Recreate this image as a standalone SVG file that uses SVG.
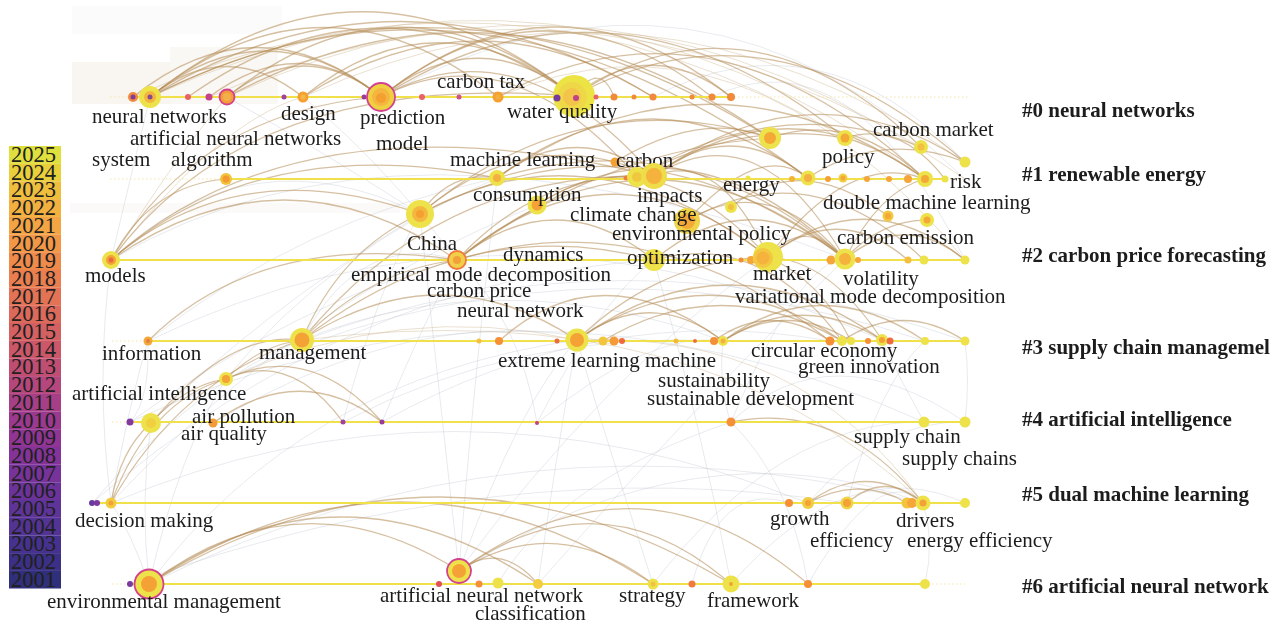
<svg xmlns="http://www.w3.org/2000/svg" width="1283" height="628" viewBox="0 0 1283 628">
<style>
  text { font-family: "Liberation Serif", "Times New Roman", serif; fill: #1c1c1c; }
  .lbl { font-size: 21px; }
  .cl { font-size: 21px; font-weight: bold; }
  .yr { font-size: 22.5px; fill: #202020; }
  .g { fill: none; stroke: #b9c0cb; stroke-width: 0.8; opacity: 0.42; }
  .a { fill: none; stroke: #b48c55; stroke-width: 1.25; opacity: 0.55; }
  .a2 { fill: none; stroke: #cdb590; stroke-width: 1; opacity: 0.42; }
  .dot { stroke: #f3e7a8; stroke-width: 1; stroke-dasharray: 1.5 2.5; }
  .tl { stroke: #f0e04a; stroke-width: 2; }
  .y { fill: #eee24a; }
  .y2 { fill: #f2cc40; }
  .o { fill: #f4a236; }
  .o2 { fill: #f59038; }
  .r { fill: #e8626a; }
  .m { fill: #c4428c; }
  .p { fill: #84399e; }
  .ring { stroke: #d2428c; stroke-width: 1.8; }
</style>

<!-- page and soft background patches -->
<rect x="0" y="0" width="1283" height="628" fill="#ffffff"/>
<g id="backdrop" opacity="0.45">
  <rect x="72" y="62" width="98" height="42" fill="#f1ebe3"/>
  <rect x="170" y="47" width="108" height="57" fill="#f4efe8"/>
  <rect x="72" y="6" width="210" height="28" fill="#f6f6f6"/>
  <rect x="70" y="203" width="330" height="10" fill="#f4ece4" opacity="0.6"/>
</g>

<!-- year colour legend -->
<g id="legend">
  <rect x="9" y="146.0" width="52" height="17.8" fill="#dfe03e"/>
  <rect x="9" y="163.7" width="52" height="17.8" fill="#e9cf3a"/>
  <rect x="9" y="181.4" width="52" height="17.8" fill="#efbe3c"/>
  <rect x="9" y="199.1" width="52" height="17.8" fill="#f2b03f"/>
  <rect x="9" y="216.8" width="52" height="17.8" fill="#f3a443"/>
  <rect x="9" y="234.5" width="52" height="17.8" fill="#f29746"/>
  <rect x="9" y="252.2" width="52" height="17.8" fill="#ef8a4a"/>
  <rect x="9" y="269.9" width="52" height="17.8" fill="#ea7e4f"/>
  <rect x="9" y="287.6" width="52" height="17.8" fill="#e47355"/>
  <rect x="9" y="305.3" width="52" height="17.8" fill="#dd695b"/>
  <rect x="9" y="323.0" width="52" height="17.8" fill="#d56062"/>
  <rect x="9" y="340.7" width="52" height="17.8" fill="#cb5769"/>
  <rect x="9" y="358.4" width="52" height="17.8" fill="#c04e72"/>
  <rect x="9" y="376.1" width="52" height="17.8" fill="#b5477c"/>
  <rect x="9" y="393.8" width="52" height="17.8" fill="#a73f86"/>
  <rect x="9" y="411.5" width="52" height="17.8" fill="#9b398e"/>
  <rect x="9" y="429.2" width="52" height="17.8" fill="#903594"/>
  <rect x="9" y="446.9" width="52" height="17.8" fill="#843398"/>
  <rect x="9" y="464.6" width="52" height="17.8" fill="#77339a"/>
  <rect x="9" y="482.3" width="52" height="17.8" fill="#6b339a"/>
  <rect x="9" y="500.0" width="52" height="17.8" fill="#5f3498"/>
  <rect x="9" y="517.7" width="52" height="17.8" fill="#533394"/>
  <rect x="9" y="535.4" width="52" height="17.8" fill="#46328e"/>
  <rect x="9" y="553.1" width="52" height="17.8" fill="#3b3086"/>
  <rect x="9" y="570.8" width="52" height="17.7" fill="#302f7a"/>
  <text class="yr" x="11" y="162">2025</text>
  <text class="yr" x="11" y="179.7">2024</text>
  <text class="yr" x="11" y="197.4">2023</text>
  <text class="yr" x="11" y="215.1">2022</text>
  <text class="yr" x="11" y="232.8">2021</text>
  <text class="yr" x="11" y="250.5">2020</text>
  <text class="yr" x="11" y="268.2">2019</text>
  <text class="yr" x="11" y="285.9">2018</text>
  <text class="yr" x="11" y="303.6">2017</text>
  <text class="yr" x="11" y="321.3">2016</text>
  <text class="yr" x="11" y="339">2015</text>
  <text class="yr" x="11" y="356.7">2014</text>
  <text class="yr" x="11" y="374.4">2013</text>
  <text class="yr" x="11" y="392.1">2012</text>
  <text class="yr" x="11" y="409.8">2011</text>
  <text class="yr" x="11" y="427.5">2010</text>
  <text class="yr" x="11" y="445.2">2009</text>
  <text class="yr" x="11" y="462.9">2008</text>
  <text class="yr" x="11" y="480.6">2007</text>
  <text class="yr" x="11" y="498.3">2006</text>
  <text class="yr" x="11" y="516">2005</text>
  <text class="yr" x="11" y="533.7">2004</text>
  <text class="yr" x="11" y="551.4">2003</text>
  <text class="yr" x="11" y="569.1">2002</text>
  <text class="yr" x="11" y="586.8">2001</text>
</g>

<!-- co-occurrence links -->
<g id="links">
  <!-- faint grey links -->
  <path class="g" d="M459 571 Q440 400 420 214"/>
  <path class="g" d="M459 571 Q470 420 497 178"/>
  <path class="g" d="M459 571 Q520 400 577 340"/>
  <path class="g" d="M149 584 Q140 500 151 423"/>
  <path class="g" d="M149 584 Q180 450 226 379"/>
  <path class="g" d="M149 584 Q130 530 111 503"/>
  <path class="g" d="M111 503 Q95 380 111 260"/>
  <path class="g" d="M111 503 Q130 400 148 341"/>
  <path class="g" d="M808 584 Q790 480 731 422"/>
  <path class="g" d="M731 584 Q700 420 654 260"/>
  <path class="g" d="M653 584 Q600 420 577 340"/>
  <path class="g" d="M538 584 Q560 430 577 340"/>
  <path class="g" d="M730 422 Q718 380 723 341"/>
  <path class="g" d="M537 423 Q520 320 457 260"/>
  <path class="g" d="M924 422 Q900 380 882 340"/>
  <path class="g" d="M965 422 Q970 380 965 341"/>
  <path class="g" d="M925 584 Q935 540 923 503"/>
  <path class="g" d="M111 260 Q400 90 845 259"/>
  <path class="g" d="M148 341 Q500 170 882 340"/>
  <path class="g" d="M226 379 Q560 220 925 341"/>
  <path class="g" d="M130 422 Q520 240 924 422"/>
  <path class="g" d="M302 341 Q620 220 965 341"/>
  <path class="g" d="M111 503 Q450 360 808 503"/>
  <path class="g" d="M149 584 Q520 400 923 503"/>
  <path class="g" d="M459 571 Q700 420 923 503"/>
  <path class="g" d="M130 584 Q500 450 847 503"/>
  <path class="g" d="M382 422 Q600 300 830 341"/>
  <path class="g" d="M343 422 Q520 330 723 341"/>
  <path class="g" d="M213 423 Q420 300 603 341"/>
  <path class="g" d="M148 341 Q300 220 497 178"/>
  <path class="g" d="M111 260 Q250 130 420 214"/>
  <path class="g" d="M302 340 Q360 230 457 260"/>
  <path class="g" d="M92 503 Q200 380 302 340"/>
  <path class="g" d="M537 423 Q650 330 723 341"/>
  <path class="g" d="M731 422 Q830 330 965 422"/>
  <path class="g" d="M808 503 Q880 420 965 422"/>
  <path class="g" d="M847 503 Q880 380 925 341"/>
  <path class="g" d="M692 584 Q720 480 789 503"/>
  <path class="g" d="M498 583 Q560 480 731 422"/>
  <path class="g" d="M381 97 Q700 -80 965 179"/>
  <path class="g" d="M653 97 Q820 10 965 162"/>
  <path class="g" d="M712 97 Q850 30 965 260"/>
  <path class="g" d="M227 97 Q320 150 420 214"/>
  <path class="g" d="M150 97 Q130 180 111 260"/>
  <path class="g" d="M303 97 Q380 160 457 260"/>
  <path class="g" d="M130 422 Q300 300 457 260"/>
  <path class="g" d="M151 423 Q250 320 420 214"/>
  <path class="g" d="M226 379 Q330 250 497 178"/>
  <path class="g" d="M149 584 Q300 380 577 340"/>
  <path class="g" d="M459 571 Q600 380 768 257"/>
  <path class="g" d="M538 584 Q700 400 845 259"/>
  <path class="g" d="M653 584 Q780 420 924 422"/>
  <path class="g" d="M731 584 Q850 450 965 503"/>
  <path class="g" d="M111 503 Q300 300 537 205"/>
  <path class="g" d="M92 503 Q350 280 654 260"/>
  <path class="g" d="M302 340 Q500 260 723 341"/>
  <path class="g" d="M148 341 Q150 400 130 422"/>
  <path class="g" d="M808 584 Q880 460 923 503"/>
  <path class="g" d="M731 422 Q800 260 845 259"/>
  <path class="g" d="M537 423 Q600 300 654 260"/>
  <path class="g" d="M382 422 Q420 330 457 260"/>
  <path class="g" d="M343 422 Q380 280 420 214"/>

  <!-- main links -->
  <path class="a" d="M150 97 Q265 5 381 97"/>
  <path class="a" d="M150 97 Q362 -73 574 96"/>
  <path class="a" d="M150 97 Q226 36 303 97"/>
  <path class="a" d="M150 97 Q324 -42 498 97"/>
  <path class="a" d="M227 97 Q400 -42 574 96"/>
  <path class="a" d="M381 97 Q477 20 574 96"/>
  <path class="a" d="M381 97 Q556 -43 731 97"/>
  <path class="a" d="M150 97 Q400 -54 653 97"/>
  <path class="a" d="M303 97 Q438 -11 574 96"/>
  <path class="a" d="M133 97 Q257 -2 381 97"/>
  <path class="a" d="M381 97 Q546 -35 712 97"/>
  <path class="a" d="M574 96 Q652 34 731 97"/>
  <path class="a" d="M227 97 Q304 35 381 97"/>
  <path class="a" d="M150 97 Q460 -60 770 138"/>
  <path class="a" d="M381 97 Q613 -50 845 138"/>
  <path class="a" d="M574 96 Q748 -20 921 147"/>
  <path class="a" d="M574 96 Q770 -10 965 162"/>
  <path class="a" d="M498 97 Q711 -20 925 179"/>
  <path class="a" d="M150 97 Q478 -70 808 178"/>
  <path class="a" d="M227 97 Q500 -50 770 138"/>
  <path class="a" d="M303 97 Q478 -15 653 97"/>
  <path class="a" d="M381 97 Q518 20 654 176"/>
  <path class="a" d="M381 97 Q509 30 637 177"/>
  <path class="a" d="M209 97 Q300 30 381 97"/>
  <path class="a" d="M188 97 Q380 -40 574 96"/>
  <path class="a" d="M574 96 Q600 60 614 97"/>
  <path class="a2" d="M150 97 Q560 -90 925 179"/>
  <path class="a2" d="M227 97 Q600 -80 965 179"/>
  <path class="a2" d="M303 97 Q640 -60 965 162"/>
  <path class="a2" d="M498 97 Q740 -10 965 260"/>
  <path class="a2" d="M133 97 Q500 -70 845 138"/>
  <path class="a2" d="M209 97 Q560 -60 921 147"/>

  <path class="a" d="M111 260 Q150 185 226 179"/>
  <path class="a" d="M111 260 Q200 110 381 97"/>
  <path class="a" d="M111 260 Q250 70 574 96"/>
  <path class="a" d="M111 260 Q260 130 497 178"/>
  <path class="a" d="M111 260 Q240 150 420 214"/>
  <path class="a" d="M111 260 Q300 90 654 176"/>
  <path class="a" d="M111 260 Q284 140 457 260"/>
  <path class="a2" d="M111 260 Q220 120 303 97"/>
  <path class="a2" d="M111 260 Q180 150 227 97"/>

  <path class="a" d="M420 214 Q530 120 654 176"/>
  <path class="a" d="M420 214 Q580 80 770 138"/>
  <path class="a" d="M420 214 Q590 120 768 257"/>
  <path class="a" d="M420 214 Q450 170 497 178"/>
  <path class="a" d="M420 214 Q640 100 845 259"/>

  <path class="a" d="M497 178 Q575 118 654 176"/>
  <path class="a" d="M497 178 Q652 60 808 178"/>
  <path class="a" d="M497 178 Q711 30 925 179"/>
  <path class="a" d="M497 178 Q690 120 845 259"/>
  <path class="a" d="M537 205 Q650 130 768 257"/>
  <path class="a" d="M537 205 Q690 110 845 259"/>

  <path class="a" d="M654 176 Q731 115 808 178"/>
  <path class="a" d="M654 176 Q790 80 925 179"/>
  <path class="a" d="M654 176 Q760 110 845 259"/>
  <path class="a" d="M654 176 Q720 150 768 257"/>
  <path class="a" d="M654 176 Q810 60 965 162"/>
  <path class="a" d="M637 177 Q740 120 845 138"/>
  <path class="a" d="M637 177 Q780 90 921 147"/>
  <path class="a" d="M615 162 Q700 110 770 138"/>
  <path class="a" d="M687 221 Q770 170 845 259"/>
  <path class="a" d="M687 221 Q810 150 924 260"/>
  <path class="a" d="M687 221 Q760 140 808 178"/>
  <path class="a" d="M731 207 Q800 150 888 216"/>
  <path class="a" d="M770 138 Q850 110 925 179"/>
  <path class="a" d="M808 178 Q880 130 965 162"/>
  <path class="a" d="M845 138 Q900 120 945 179"/>

  <path class="a" d="M768 257 Q806 215 845 259"/>
  <path class="a" d="M768 257 Q850 150 925 179"/>
  <path class="a" d="M768 257 Q866 180 965 260"/>
  <path class="a" d="M768 257 Q838 200 908 260"/>
  <path class="a" d="M845 259 Q905 210 965 260"/>
  <path class="a" d="M845 259 Q880 190 925 179"/>
  <path class="a" d="M845 259 Q880 220 927 220"/>

  <path class="a" d="M457 260 Q555 180 654 260"/>
  <path class="a" d="M457 260 Q612 130 768 257"/>
  <path class="a" d="M457 260 Q540 170 654 176"/>
  <path class="a" d="M457 260 Q651 100 845 259"/>
  <path class="a" d="M457 260 Q600 150 770 138"/>
  <path class="a" d="M654 260 Q750 180 845 259"/>

  <path class="a" d="M302 340 Q440 250 577 340"/>
  <path class="a" d="M302 340 Q370 270 457 260"/>
  <path class="a" d="M302 340 Q470 210 654 260"/>
  <path class="a" d="M302 340 Q340 250 420 214"/>
  <path class="a" d="M302 340 Q440 170 654 176"/>
  <path class="a" d="M148 341 Q260 230 457 260"/>

  <path class="a" d="M577 340 Q650 285 723 341"/>
  <path class="a" d="M577 340 Q710 250 842 341"/>
  <path class="a" d="M577 340 Q730 230 882 340"/>
  <path class="a" d="M577 340 Q660 260 768 257"/>
  <path class="a" d="M723 341 Q802 290 882 340"/>
  <path class="a" d="M723 341 Q786 300 851 341"/>
  <path class="a" d="M714 341 Q770 300 830 341"/>
  <path class="a" d="M603 341 Q720 270 842 341"/>
  <path class="a" d="M723 341 Q820 270 925 341"/>
  <path class="a" d="M842 341 Q903 300 965 341"/>
  <path class="a" d="M768 257 Q830 260 882 340"/>
  <path class="a" d="M654 260 Q760 230 842 341"/>
  <path class="a" d="M457 260 Q650 200 830 341"/>
  <path class="a" d="M499 341 Q600 250 723 341"/>
  <path class="a" d="M768 257 Q820 280 851 341"/>

  <path class="a" d="M226 379 Q290 350 343 422"/>
  <path class="a" d="M226 379 Q310 340 382 422"/>
  <path class="a" d="M226 379 Q260 345 302 340"/>
  <path class="a" d="M151 423 Q185 385 226 379"/>
  <path class="a" d="M151 423 Q230 330 302 340"/>
  <path class="a" d="M213 423 Q300 360 382 422"/>
  <path class="a2" d="M226 379 Q400 300 577 340"/>

  <path class="a" d="M111 503 Q120 450 151 423"/>
  <path class="a" d="M111 503 Q150 400 226 379"/>
  <path class="a" d="M111 503 Q180 380 302 340"/>
  <path class="a" d="M808 503 Q865 460 923 503"/>
  <path class="a" d="M847 503 Q885 470 923 503"/>
  <path class="a" d="M808 503 Q860 475 907 503"/>
  <path class="a" d="M731 422 Q840 400 923 503"/>
  <path class="a2" d="M577 340 Q800 330 923 503"/>
  <path class="a2" d="M302 340 Q700 290 923 503"/>

  <path class="a" d="M149 584 Q300 470 459 571"/>
  <path class="a" d="M149 584 Q340 450 538 584"/>
  <path class="a" d="M149 584 Q400 420 653 584"/>
  <path class="a" d="M149 584 Q440 410 731 584"/>
  <path class="a" d="M459 571 Q556 510 653 584"/>
  <path class="a" d="M459 571 Q600 470 731 584"/>
  <path class="a" d="M459 571 Q640 440 808 584"/>
  <path class="a" d="M459 571 Q500 540 538 584"/>
</g>

<!-- timelines -->
<g id="timelines">
  <line class="dot" x1="110" y1="97" x2="968" y2="97"/>
  <line class="tl" x1="133" y1="97" x2="731" y2="97"/>
  <line class="dot" x1="110" y1="179" x2="965" y2="179"/>
  <line class="tl" x1="226" y1="179" x2="945" y2="179"/>
  <line class="tl" x1="111" y1="260" x2="965" y2="260"/>
  <line class="dot" x1="112" y1="341" x2="965" y2="341"/>
  <line class="tl" x1="148" y1="341" x2="965" y2="341"/>
  <line class="dot" x1="112" y1="422" x2="965" y2="422"/>
  <line class="tl" x1="130" y1="422" x2="965" y2="422"/>
  <line class="tl" x1="92" y1="503" x2="965" y2="503"/>
  <line class="dot" x1="112" y1="584" x2="965" y2="584"/>
  <line class="tl" x1="130" y1="584" x2="925" y2="584"/>
</g>

<!-- cluster #0 -->
<g id="n-system"><circle cx="133" cy="97" r="5" fill="#f08c3c"/><circle cx="133" cy="97" r="2.5" class="p"/>
  <text class="lbl" x="92" y="166">system</text></g>
<g id="n-neural-networks"><circle cx="150" cy="97" r="11" class="y"/><circle cx="150" cy="97" r="6" fill="#f3b540"/><circle cx="150" cy="97" r="2.5" fill="#8a4a8a"/>
  <text class="lbl" x="92" y="123">neural networks</text></g>
<g id="n0-small-a"><circle cx="188" cy="97" r="3" class="r"/><circle cx="209" cy="97" r="3.5" class="m"/></g>
<g id="n-artificial-neural-networks"><circle cx="227" cy="97" r="7.5" fill="#f39a3a" class="ring"/><circle cx="227" cy="97" r="4" fill="#f4b048"/>
  <text class="lbl" x="130" y="145">artificial neural networks</text></g>
<g id="n0-small-b"><circle cx="284" cy="97" r="2.5" fill="#a040a0"/><circle cx="364" cy="97" r="2.5" fill="#9a3a9a"/></g>
<g id="n-design"><circle cx="303" cy="97" r="5.5" fill="#f5a030"/><circle cx="303" cy="97" r="2.5" fill="#f4b848"/>
  <text class="lbl" x="281" y="120">design</text></g>
<g id="n-prediction"><circle cx="381" cy="97" r="14" fill="#efd040" class="ring"/><circle cx="381" cy="97" r="9" fill="#f5b540"/><circle cx="381" cy="98" r="5" fill="#f3a030"/>
  <text class="lbl" x="360" y="124">prediction</text>
  <text class="lbl" x="376" y="150">model</text></g>
<g id="n0-small-c"><circle cx="422" cy="97" r="3" class="r"/><circle cx="459" cy="97" r="2.5" fill="#d0508a"/></g>
<g id="n-carbon-tax"><circle cx="498" cy="97" r="5.5" fill="#f5a033"/><circle cx="498" cy="97" r="2.5" fill="#f0b040"/>
  <text class="lbl" x="437" y="88">carbon tax</text></g>
<g id="n-water-quality"><circle cx="574" cy="96" r="21" fill="#ece445"/><circle cx="572" cy="97" r="15" fill="#efd848"/><circle cx="572" cy="97" r="9" fill="#f2c44a"/>
  <circle cx="557" cy="98" r="3.5" fill="#7a3a9a"/><circle cx="576" cy="98" r="3" fill="#c0408a"/>
  <text class="lbl" x="507" y="118">water quality</text></g>
<g id="n0-small-d"><circle cx="596" cy="97" r="2.5" class="r"/><circle cx="614" cy="97" r="3.5" fill="#f08a3c"/><circle cx="634" cy="97" r="2.5" fill="#f08a3c"/>
  <circle cx="653" cy="97" r="3.5" fill="#f08a3c"/><circle cx="692" cy="97" r="2.5" fill="#f08a3c"/><circle cx="712" cy="97" r="3.5" fill="#f08a3c"/><circle cx="731" cy="97" r="4" fill="#f08a3c"/></g>

<!-- cluster #1 -->
<g id="n-algorithm"><circle cx="226" cy="179" r="6" fill="#f2c23c"/><circle cx="226" cy="179" r="3.5" fill="#f39a30"/>
  <text class="lbl" x="171" y="166">algorithm</text></g>
<g id="n-machine-learning"><circle cx="497" cy="178" r="8" class="y"/><circle cx="497" cy="178" r="4" fill="#f4b040"/>
  <text class="lbl" x="450" y="166">machine learning</text></g>
<g id="n-consumption"><circle cx="537" cy="205" r="9.5" class="y"/><circle cx="537" cy="205" r="5.5" class="o"/>
  <text class="lbl" x="473" y="201">consumption</text></g>
<g id="n-china"><circle cx="420" cy="214" r="14" class="y"/><circle cx="420" cy="214" r="8" fill="#f4b840"/><circle cx="420" cy="214" r="4" fill="#f4a030"/>
  <text class="lbl" x="407" y="250">China</text></g>
<g id="n1-small-a"><circle cx="615" cy="162" r="4.5" fill="#f5a030"/><circle cx="626" cy="178" r="2.5" fill="#f08040"/><circle cx="748" cy="178" r="2.5" class="y"/></g>
<g id="n-carbon"><circle cx="637" cy="177" r="10" class="y"/><circle cx="637" cy="177" r="5" fill="#f0c840"/>
  <text class="lbl" x="616" y="167">carbon</text></g>
<g id="n-impacts"><circle cx="654" cy="176" r="13" fill="#eedc48"/><circle cx="654" cy="176" r="8" fill="#f5b23c"/>
  <text class="lbl" x="637" y="202">impacts</text></g>
<g id="n-climate-change"><circle cx="687" cy="221" r="13" fill="#efd448"/><circle cx="687" cy="221" r="8" fill="#f4a838"/>
  <text class="lbl" x="570" y="221">climate change</text></g>
<g id="n-energy"><circle cx="731" cy="207" r="6" class="y"/><circle cx="731" cy="207" r="3" fill="#f0c040"/>
  <text class="lbl" x="723" y="191">energy</text></g>
<g id="n1-upper"><circle cx="770" cy="138" r="11" class="y"/><circle cx="770" cy="138" r="6" fill="#f4a836"/></g>
<g id="n-policy"><circle cx="845" cy="138" r="8" class="y"/><circle cx="845" cy="138" r="4.5" fill="#f4a836"/>
  <text class="lbl" x="822" y="163">policy</text></g>
<g id="n-carbon-market"><circle cx="921" cy="147" r="7" class="y"/><circle cx="921" cy="147" r="3.5" fill="#f4c040"/>
  <text class="lbl" x="873" y="136">carbon market</text></g>
<g id="n1-small-b"><circle cx="792" cy="179" r="3" fill="#f2b438"/><circle cx="808" cy="178" r="7.5" class="y"/><circle cx="808" cy="178" r="4" fill="#f4b040"/>
  <circle cx="828" cy="179" r="3" fill="#f4a03a"/><circle cx="843" cy="178" r="4.5" fill="#f0d040"/><circle cx="843" cy="178" r="2.5" fill="#f4a836"/>
  <circle cx="867" cy="179" r="3" fill="#f5a53a"/><circle cx="889" cy="179" r="3" fill="#f5a53a"/><circle cx="908" cy="179" r="4" fill="#f5a53a"/>
  <circle cx="925" cy="179" r="8" class="y"/><circle cx="925" cy="179" r="4" fill="#f4a836"/></g>
<g id="n-risk"><circle cx="965" cy="162" r="5.5" class="y"/><circle cx="945" cy="179" r="3.5" class="y"/>
  <text class="lbl" x="950" y="188">risk</text></g>
<g id="n-double-machine-learning"><circle cx="888" cy="216" r="5.5" fill="#f2c840"/><circle cx="888" cy="216" r="3" fill="#f4a836"/>
  <text class="lbl" x="823" y="209">double machine learning</text></g>
<g id="n-carbon-emission"><circle cx="927" cy="220" r="7" class="y"/><circle cx="927" cy="220" r="3.5" fill="#f4a836"/>
  <text class="lbl" x="837" y="244">carbon emission</text></g>

<!-- cluster #2 -->
<g id="n-models"><circle cx="111" cy="260" r="9" class="y"/><circle cx="111" cy="260" r="5" class="o"/><circle cx="111" cy="260" r="2.5" fill="#ec6a40"/>
  <text class="lbl" x="85" y="282">models</text></g>
<g id="n-empirical-mode-decomposition"><circle cx="457" cy="260" r="9" fill="#f0d048" stroke="#ee7a3c" stroke-width="1.8"/><circle cx="457" cy="260" r="4" fill="#f4a03a"/>
  <text class="lbl" x="351" y="281">empirical mode decomposition</text>
  <text class="lbl" x="427" y="297">carbon price</text>
  <text class="lbl" x="457" y="317">neural network</text></g>
<g id="n-dynamics"><text class="lbl" x="503" y="261">dynamics</text></g>
<g id="n-optimization"><circle cx="654" cy="260" r="11" class="y"/><circle cx="654" cy="260" r="5" fill="#f0d040"/>
  <text class="lbl" x="627" y="264">optimization</text></g>
<g id="n2-small-a"><circle cx="741" cy="260" r="2.5" fill="#f08a3c"/><circle cx="751" cy="260" r="4" fill="#f5a53a"/></g>
<g id="n-market"><circle cx="768" cy="257" r="15" class="y"/><circle cx="763" cy="258" r="10" fill="#f3c840"/><circle cx="763" cy="258" r="6.5" fill="#f5b23c"/>
  <text class="lbl" x="612" y="240">environmental policy</text>
  <text class="lbl" x="753" y="280">market</text></g>
<g id="n-volatility"><circle cx="831" cy="260" r="4.5" fill="#f5a53a"/><circle cx="845" cy="259" r="10.5" class="y"/><circle cx="845" cy="259" r="6" fill="#f5b23c"/><circle cx="858" cy="260" r="3" fill="#f5a53a"/>
  <text class="lbl" x="843" y="285">volatility</text>
  <text class="lbl" x="735" y="303">variational mode decomposition</text></g>
<g id="n2-small-b"><circle cx="908" cy="260" r="3.5" fill="#f5c040"/><circle cx="924" cy="260" r="4.5" class="y"/><circle cx="965" cy="260" r="4.5" class="y"/></g>

<!-- cluster #3 -->
<g id="n-information"><circle cx="148" cy="341" r="4.5" fill="#f4a83a"/><circle cx="148" cy="341" r="2" fill="#e08040"/>
  <text class="lbl" x="102" y="360">information</text></g>
<g id="n-management"><circle cx="302" cy="340" r="12" class="y"/><circle cx="302" cy="340" r="7.5" class="o"/>
  <text class="lbl" x="259" y="359">management</text></g>
<g id="n3-small-a"><circle cx="479" cy="341" r="2.5" fill="#f5c040"/><circle cx="499" cy="341" r="4" class="o2"/><circle cx="557" cy="341" r="2.5" fill="#ec6c40"/></g>
<g id="n-extreme-learning-machine"><circle cx="577" cy="340" r="11.5" class="y"/><circle cx="577" cy="340" r="7" class="o"/>
  <text class="lbl" x="498" y="367">extreme learning machine</text></g>
<g id="n3-small-b"><circle cx="603" cy="341" r="4.5" fill="#f3c43e"/><circle cx="614" cy="341" r="4.5" fill="#f59a38"/><circle cx="622" cy="341" r="3" fill="#ee6a40"/>
  <circle cx="676" cy="341" r="2.5" fill="#f4b83c"/><circle cx="695" cy="341" r="2" fill="#ee7040"/><circle cx="714" cy="341" r="4" class="o2"/></g>
<g id="n-sustainability"><circle cx="723" cy="341" r="5" class="y"/><circle cx="723" cy="341" r="2.5" fill="#f4b040"/>
  <text class="lbl" x="658" y="387">sustainability</text>
  <text class="lbl" x="647" y="405">sustainable development</text></g>
<g id="n-circular-economy"><circle cx="830" cy="341" r="4.5" class="o2"/><circle cx="842" cy="341" r="5" class="y"/><circle cx="851" cy="341" r="4" class="y"/>
  <text class="lbl" x="751" y="357">circular economy</text></g>
<g id="n-green-innovation"><circle cx="868" cy="341" r="3" class="o2"/><circle cx="882" cy="340" r="6" class="y"/><circle cx="882" cy="340" r="3" class="o"/><circle cx="890" cy="341" r="3.5" fill="#ee6a40"/>
  <text class="lbl" x="798" y="373">green innovation</text></g>
<g id="n3-small-c"><circle cx="925" cy="341" r="4" class="y"/><circle cx="965" cy="341" r="4.5" class="y"/></g>

<!-- cluster #4 -->
<g id="n-artificial-intelligence"><circle cx="226" cy="379" r="7" class="y"/><circle cx="226" cy="379" r="4" class="o"/>
  <text class="lbl" x="72" y="400">artificial intelligence</text></g>
<g id="n-air-quality"><circle cx="130" cy="422" r="3.5" class="p"/><circle cx="151" cy="423" r="10" class="y"/><circle cx="151" cy="423" r="5" fill="#f0d040"/>
  <text class="lbl" x="181" y="440">air quality</text></g>
<g id="n-air-pollution"><circle cx="213" cy="423" r="4.5" fill="#f59a38"/>
  <text class="lbl" x="192" y="423">air pollution</text></g>
<g id="n4-small"><circle cx="343" cy="422" r="2.5" fill="#a040a0"/><circle cx="382" cy="422" r="2.5" fill="#9a3a9a"/><circle cx="537" cy="423" r="2" fill="#c0408a"/><circle cx="731" cy="422" r="4.5" class="o2"/></g>
<g id="n-supply-chain"><circle cx="924" cy="422" r="5.5" class="y"/>
  <text class="lbl" x="854" y="443">supply chain</text></g>
<g id="n-supply-chains"><circle cx="965" cy="422" r="5.5" class="y"/>
  <text class="lbl" x="902" y="465">supply chains</text></g>

<!-- cluster #5 -->
<g id="n-decision-making"><circle cx="92" cy="503" r="3" fill="#6a3aa0"/><circle cx="97" cy="503" r="3" fill="#7a3aa0"/><circle cx="111" cy="503" r="5.5" class="y2"/><circle cx="111" cy="503" r="2.5" class="o"/>
  <text class="lbl" x="75" y="527">decision making</text></g>
<g id="n-growth"><circle cx="789" cy="503" r="4" class="o2"/><circle cx="808" cy="503" r="6" class="y2"/><circle cx="808" cy="503" r="3" class="o"/>
  <text class="lbl" x="770" y="525">growth</text></g>
<g id="n-efficiency"><circle cx="847" cy="503" r="6.5" fill="#efd448"/><circle cx="847" cy="503" r="4" class="o"/>
  <text class="lbl" x="810" y="547">efficiency</text></g>
<g id="n-drivers"><circle cx="907" cy="503" r="5.5" fill="#f3c43e"/><circle cx="912" cy="503" r="5" fill="#f5a53a"/><circle cx="923" cy="503" r="7.5" class="y"/><circle cx="923" cy="503" r="3.5" class="o"/>
  <text class="lbl" x="896" y="527">drivers</text></g>
<g id="n-energy-efficiency"><circle cx="965" cy="503" r="5" class="y"/>
  <text class="lbl" x="907" y="547">energy efficiency</text></g>

<!-- cluster #6 -->
<g id="n-environmental-management"><circle cx="130" cy="584" r="3" fill="#7a3aa0"/><circle cx="149" cy="584" r="14.5" class="y ring"/><circle cx="149" cy="584" r="8" class="o"/>
  <text class="lbl" x="47" y="608">environmental management</text></g>
<g id="n-artificial-neural-network"><circle cx="439" cy="584" r="3" fill="#e0505a"/><circle cx="459" cy="571" r="12" class="y ring"/><circle cx="459" cy="571" r="7" class="o"/>
  <text class="lbl" x="380" y="602">artificial neural network</text></g>
<g id="n-classification"><circle cx="479" cy="584" r="3.5" class="o2"/><circle cx="498" cy="583" r="5.5" class="y"/><circle cx="538" cy="584" r="5" fill="#f3cc40"/>
  <text class="lbl" x="475" y="620">classification</text></g>
<g id="n-strategy"><circle cx="653" cy="584" r="5.5" class="y"/><circle cx="653" cy="584" r="2.5" fill="#f3c040"/><circle cx="692" cy="584" r="3.5" fill="#f07a40"/>
  <text class="lbl" x="619" y="602">strategy</text></g>
<g id="n-framework"><circle cx="731" cy="584" r="8.5" class="y"/><circle cx="731" cy="584" r="2" class="o"/>
  <text class="lbl" x="707" y="607">framework</text></g>
<g id="n6-small"><circle cx="808" cy="584" r="4" class="o2"/><circle cx="925" cy="584" r="5" class="y"/></g>

<!-- cluster titles -->
<g id="clusters">
  <text class="cl" x="1022" y="117">#0 neural networks</text>
  <text class="cl" x="1022" y="181">#1 renewable energy</text>
  <text class="cl" x="1022" y="262">#2 carbon price forecasting</text>
  <text class="cl" x="1022" y="354">#3 supply chain managemel</text>
  <text class="cl" x="1022" y="426">#4 artificial intelligence</text>
  <text class="cl" x="1022" y="501">#5 dual machine learning</text>
  <text class="cl" x="1022" y="593">#6 artificial neural network</text>
</g>
</svg>
